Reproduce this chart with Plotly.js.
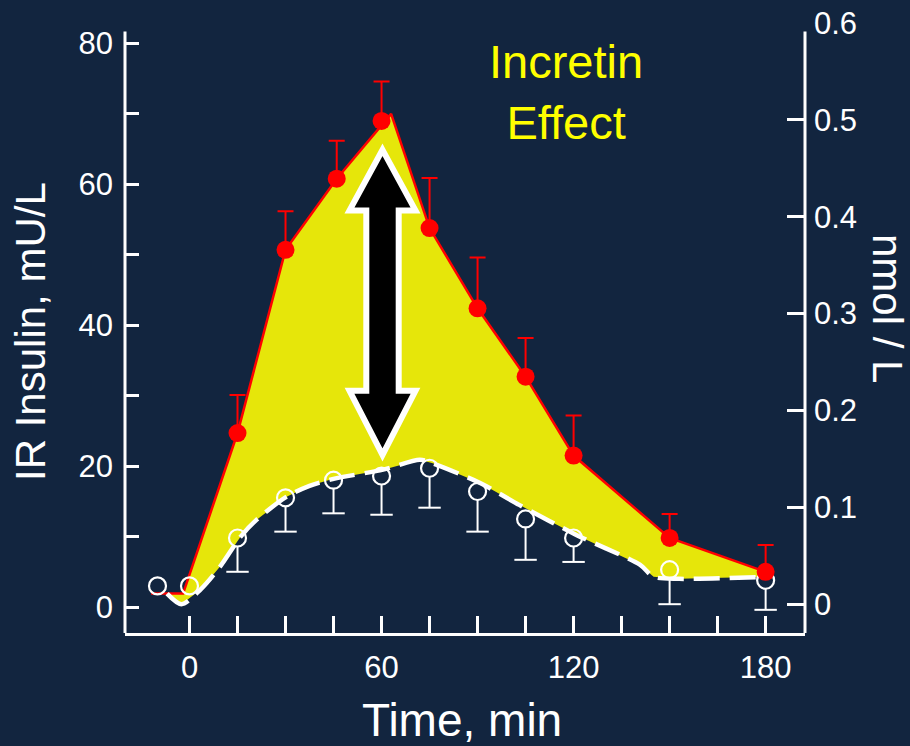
<!DOCTYPE html>
<html>
<head>
<meta charset="utf-8">
<script src="https://cdn.plot.ly/plotly-3.0.1.min.js"></script>
<style>
  html, body { margin: 0; padding: 0; background: #12253F; }
  #chart { width: 910px; height: 746px; }
</style>
</head>
<body>
<div id="chart"></div>
<script>
// ---------- data ----------
// Oral glucose (filled red circles, error bars upward)
const timeOral = [15, 30, 46, 60, 75, 90, 105, 120, 150, 180];
const insulinOral = [24.7, 50.7, 60.8, 69.0, 53.8, 42.4, 32.7, 21.5, 9.8, 5.0];
const errOral = [5.4, 5.5, 5.4, 5.6, 7.1, 7.2, 5.5, 5.7, 3.4, 3.8];

// IV glucose (open white circles, error bars downward)
const timeIV = [-10, 0, 15, 30, 45, 60, 75, 90, 105, 120, 150, 180];
const insulinIV = [3.0, 3.0, 9.8, 15.5, 18.0, 18.6, 19.7, 16.4, 12.5, 9.8, 5.3, 3.8];
const errIV = [0, 0, 4.8, 4.8, 4.7, 5.5, 5.6, 5.7, 5.8, 3.4, 4.9, 4.2];

// Upper (red) outline of the shaded incretin area
const oralCurveT = [-12, -2, 15, 30, 46, 63, 75, 90, 105, 120, 150, 180];
const oralCurveY = [1.9, 1.9, 24.7, 50.7, 60.8, 70.0, 53.8, 42.4, 32.7, 21.5, 9.8, 5.0];

// Lower (white dashed) smoothed outline
const ivCurveT = [-7, -2.5, 3.5, 9.5, 16, 21, 30.5, 37.5, 45, 60.5, 72, 76, 90.8, 103, 121, 140.7, 145, 153, 181];
const ivCurveY = [1.9, 0.4, 2.5, 5.7, 10.0, 12.4, 15.7, 17.2, 18.2, 19.5, 20.9, 20.4, 17.6, 14.5, 10.2, 6.0, 4.3, 4.0, 4.3];

// Axis ticks
const xTickVals = [0, 15, 30, 45, 60, 75, 90, 105, 120, 135, 150, 165, 180];
const xTickText = ['0', '', '', '', '60', '', '', '', '120', '', '', '', '180'];
const yTickVals = [0, 10, 20, 30, 40, 50, 60, 70, 80];
const yTickText = ['0', '', '20', '', '40', '', '60', '', '80'];
const y2TickVals = [0, 0.1, 0.2, 0.3, 0.4, 0.5, 0.6];
const y2TickText = ['0', '0.1', '0.2', '0.3', '0.4', '0.5', '0.6'];

// Double arrow (incretin effect) : centre time, tip/base levels (mU/L), half widths (min)
const arrowT = 60.3;
const arrowLevels = [64.9, 56.3, 30.7, 21.6]; // top tip, top head base, bottom head base, bottom tip
const arrowHalfWidths = [10.3, 5.06];         // head, shaft

// ---------- layout geometry ----------
const W = 910, H = 746;
const M = {l: 125, r: 105, t: 22, b: 113};
const xRange = [-20.15, 192.3];
const yRange = [-3.69, 83.05];
const y2Range = [-0.0298, 0.601];
const plotH = H - M.t - M.b;
const pxPerUnit = plotH / (yRange[1] - yRange[0]);

const BG = '#12253F';
const YELLOW = '#E6E60A';
const RED = '#FF0000';
const WHITE = '#FFFFFF';
const FONT = 'Liberation Sans, Arial, Helvetica, sans-serif';

const ivMarkerSize = 17;
const circleR = (ivMarkerSize / 2) / pxPerUnit;

// IV error bars (start at bottom edge of open circle)
const ivBarT = [], ivBarStart = [], ivBarLen = [], ivCapY = [];
timeIV.forEach((t, i) => {
  if (errIV[i] > 0) {
    ivBarT.push(t);
    ivBarStart.push(insulinIV[i] - circleR);
    ivBarLen.push(errIV[i] - circleR);
    ivCapY.push(insulinIV[i] - errIV[i]);
  }
});

// shaded polygon: red outline forward, dashed outline backward
const fillT = oralCurveT.concat(ivCurveT.slice().reverse());
const fillY = oralCurveY.concat(ivCurveY.slice().reverse());

const traces = [
  { x: fillT, y: fillY, mode: 'lines', fill: 'toself', fillcolor: YELLOW,
    line: {width: 0, color: YELLOW}, hoverinfo: 'skip', showlegend: false },
  { x: oralCurveT, y: oralCurveY, mode: 'lines', line: {color: RED, width: 2.5},
    hoverinfo: 'skip', showlegend: false },
  { x: ivCurveT, y: ivCurveY, mode: 'lines', line: {color: WHITE, width: 4.5, dash: '26px,10px', shape: 'spline', smoothing: 0.8},
    hoverinfo: 'skip', showlegend: false },
  { x: ivBarT, y: ivBarStart, mode: 'markers', marker: {opacity: 0, size: 1},
    error_y: {type: 'data', symmetric: false, array: ivBarT.map(() => 0), arrayminus: ivBarLen,
              color: WHITE, thickness: 2, width: 0},
    hoverinfo: 'skip', showlegend: false },
  { x: ivBarT, y: ivCapY, mode: 'markers',
    marker: {symbol: 'line-ew', size: 16, line: {color: WHITE, width: 2}},
    hoverinfo: 'skip', showlegend: false },
  { x: timeIV, y: insulinIV, mode: 'markers',
    marker: {symbol: 'circle-open', size: ivMarkerSize, color: WHITE, line: {color: WHITE, width: 2.2}},
    hoverinfo: 'skip', showlegend: false },
  { x: timeOral, y: insulinOral, mode: 'markers',
    marker: {symbol: 'circle', size: 18, color: RED},
    error_y: {type: 'data', symmetric: false, array: errOral, arrayminus: errOral.map(() => 0),
              color: RED, thickness: 2, width: 8},
    hoverinfo: 'skip', showlegend: false },
  { x: [], y: [], yaxis: 'y2', mode: 'markers', hoverinfo: 'skip', showlegend: false }
];

// arrow path in data coordinates
const [tTop, tBase, bBase, bTip] = arrowLevels;
const [hw, sw] = arrowHalfWidths;
const P = (t, y) => t + ',' + y;
const arrowPath = 'M' + P(arrowT, tTop) +
  ' L' + P(arrowT + hw, tBase) + ' L' + P(arrowT + sw, tBase) +
  ' L' + P(arrowT + sw, bBase) + ' L' + P(arrowT + hw, bBase) +
  ' L' + P(arrowT, bTip) +
  ' L' + P(arrowT - hw, bBase) + ' L' + P(arrowT - sw, bBase) +
  ' L' + P(arrowT - sw, tBase) + ' L' + P(arrowT - hw, tBase) + ' Z';

const axisTop = 81.7;

const layout = {
  width: W, height: H,
  margin: {l: M.l, r: M.r, t: M.t, b: M.b, pad: 0},
  paper_bgcolor: BG, plot_bgcolor: BG,
  showlegend: false,
  font: {family: FONT, color: WHITE},
  xaxis: {
    range: xRange, tickmode: 'array', tickvals: xTickVals, ticktext: xTickText,
    ticks: 'inside', ticklen: 17, tickwidth: 3, tickcolor: WHITE,
    showline: true, linecolor: WHITE, linewidth: 3, mirror: false,
    showgrid: false, zeroline: false,
    tickfont: {size: 31, color: WHITE, family: FONT}, ticklabelstandoff: 5
  },
  yaxis: {
    range: yRange, tickmode: 'array', tickvals: yTickVals, ticktext: yTickText,
    ticks: 'inside', ticklen: 14, tickwidth: 3, tickcolor: WHITE,
    showline: false, showgrid: false, zeroline: false,
    tickfont: {size: 31, color: WHITE, family: FONT}, ticklabelstandoff: 11
  },
  yaxis2: {
    range: y2Range, overlaying: 'y', side: 'right', tickmode: 'array',
    tickvals: y2TickVals, ticktext: y2TickText,
    ticks: 'inside', ticklen: 18, tickwidth: 3, tickcolor: WHITE,
    showline: false, showgrid: false, zeroline: false,
    tickfont: {size: 31, color: WHITE, family: FONT}, ticklabelstandoff: 8
  },
  shapes: [
    {type: 'line', xref: 'paper', yref: 'y', x0: 0, x1: 0, y0: yRange[0], y1: axisTop,
     line: {color: WHITE, width: 3}, layer: 'above'},
    {type: 'line', xref: 'paper', yref: 'y', x0: 1, x1: 1, y0: yRange[0], y1: axisTop,
     line: {color: WHITE, width: 3}, layer: 'above'},
    {type: 'path', xref: 'x', yref: 'y', path: arrowPath, fillcolor: '#000000',
     line: {color: WHITE, width: 6}, layer: 'above'}
  ],
  annotations: [
    {text: 'Incretin<br>Effect', xref: 'paper', yref: 'paper',
     x: (566 - M.l) / (W - M.l - M.r), y: (H - M.b - 92) / plotH,
     xanchor: 'center', yanchor: 'middle', align: 'center', showarrow: false,
     font: {size: 47, color: '#FFFF00', family: FONT}},
    {text: 'IR Insulin, mU/L', xref: 'paper', yref: 'paper',
     x: (30 - M.l) / (W - M.l - M.r), y: (H - M.b - 332) / plotH,
     xanchor: 'center', yanchor: 'middle', textangle: -90, showarrow: false,
     font: {size: 42, color: WHITE, family: FONT}},
    {text: 'nmol / L', xref: 'paper', yref: 'paper',
     x: (888 - M.l) / (W - M.l - M.r), y: (H - M.b - 308) / plotH,
     xanchor: 'center', yanchor: 'middle', textangle: 90, showarrow: false,
     font: {size: 42, color: WHITE, family: FONT}},
    {text: 'Time, min', xref: 'paper', yref: 'paper',
     x: (462 - M.l) / (W - M.l - M.r), y: (H - M.b - 720) / plotH,
     xanchor: 'center', yanchor: 'middle', showarrow: false,
     font: {size: 46, color: WHITE, family: FONT}}
  ]
};

Plotly.newPlot('chart', traces, layout, {staticPlot: true, displayModeBar: false});
</script>
</body>
</html>
